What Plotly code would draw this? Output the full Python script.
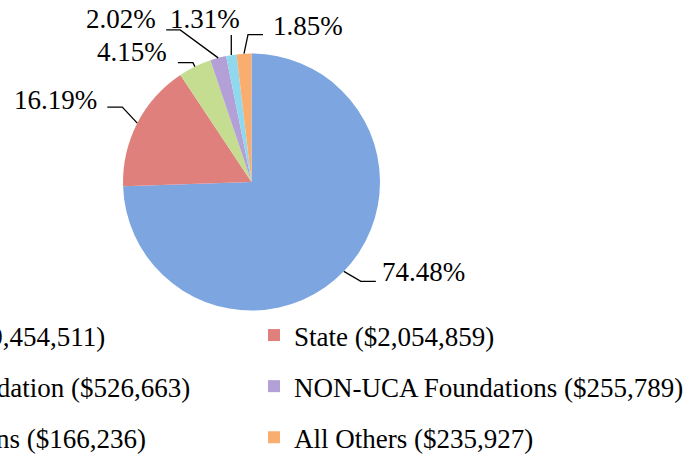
import math
import plotly.graph_objects as go

# ---- data ----
categories = ["Federal", "State", "UCA Foundation", "NON-UCA Foundations", "Corporations", "All Others"]
amounts = [9454511, 2054859, 526663, 255789, 166236, 235927]
pct_labels = ["74.48%", "16.19%", "4.15%", "2.02%", "1.31%", "1.85%"]
colors = ["#7DA6E0", "#E0807C", "#C4DD90", "#B2A0D6", "#8FD8EE", "#F9AE70"]

FONT = "Liberation Serif"
FS = 27
W, H = 685, 457

def X(px):
    return px / W

def Y(py):
    return 1 - py / H

# pie geometry (screen pixels)
CX, CY, R = 251.5, 182.0, 128.5

# label layout: leader-line elbow / end offsets from slice edge point, text anchor offset
label_layout = [
    # elbow(dx,dy), end(dx,dy), text(dx,dy) relative to edge point, xanchor
    ((17, 10), (32, 10), (36, 1), "left"),
    ((-15, -16), (-30, -16), (-38, -23), "right"),
    ((-2, -4), (-17, -4), (-26, -15), "right"),
    ((-38, -28), (-52, -28), (-60, -39), "right"),
    ((0, -20), (0, -20), (-26, -36), "center"),
    ((4, -19), (19, -19), (27, -28), "left"),
]

legend_names = [f"{c} (${v:,})" for c, v in zip(categories, amounts)]

fig = go.Figure()
fig.add_trace(go.Pie(
    labels=categories,
    values=amounts,
    textinfo="none",
    marker=dict(colors=colors, line=dict(width=0)),
    sort=False,
    direction="clockwise",
    rotation=0,
    showlegend=False,
    domain=dict(x=[X(CX - R), X(CX + R)], y=[Y(CY + R), Y(CY - R)]),
    hoverinfo="label+value+percent",
))

# data labels with leader lines, positioned from the slice mid-angles
total = sum(amounts)
cum = 0.0
for v, lab, (elb, end, tpos, xa) in zip(amounts, pct_labels, label_layout):
    mid = (cum + v / 2) / total * 2 * math.pi
    cum += v
    ex = CX + R * math.sin(mid)
    ey = CY - R * math.cos(mid)
    pts = [(ex, ey), (ex + elb[0], ey + elb[1]), (ex + end[0], ey + end[1])]
    path = "M " + " L ".join(f"{X(a):.5f},{Y(b):.5f}" for a, b in pts)
    fig.add_shape(type="path", path=path, xref="paper", yref="paper",
                  line=dict(color="black", width=1.3))
    fig.add_annotation(x=X(ex + tpos[0]), y=Y(ey + tpos[1]), xref="paper", yref="paper",
                       text=lab, showarrow=False, xanchor=xa, yanchor="middle",
                       font=dict(family=FONT, size=FS, color="black"))

# legend entries (two columns, row-major order like the original)
for i, (name, col) in enumerate(zip(legend_names, colors)):
    fig.add_trace(go.Scatter(
        x=[None], y=[None], mode="markers",
        marker=dict(symbol="square", size=12, color=col),
        name=name,
        legend="legend" if i % 2 == 0 else "legend2",
        legendgroup=f"g{i}",
        showlegend=True,
        hoverinfo="skip",
    ))

leg_common = dict(
    orientation="v", yanchor="top", y=1 - 311 / H,
    font=dict(family=FONT, size=FS, color="black"),
    bgcolor="rgba(0,0,0,0)", borderwidth=0,
    tracegroupgap=13, itemclick=False, itemdoubleclick=False,
)
fig.update_layout(
    width=W, height=H,
    margin=dict(l=0, r=0, t=0, b=0, autoexpand=False),
    paper_bgcolor="white", plot_bgcolor="white",
    xaxis=dict(visible=False), yaxis=dict(visible=False),
    legend=dict(x=-161 / W, xanchor="left", **leg_common),
    legend2=dict(x=254 / W, xanchor="left", **leg_common),
    font=dict(family=FONT, size=FS, color="black"),
)

fig.write_html("out.html", config={"displayModeBar": False},
               post_script="document.body.style.margin='0px';")
